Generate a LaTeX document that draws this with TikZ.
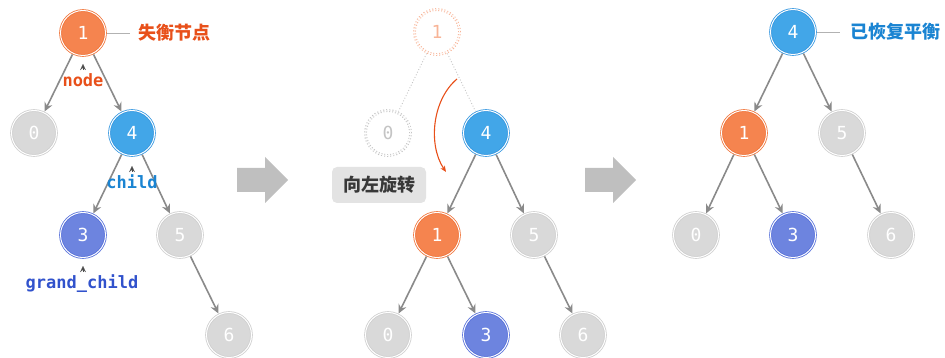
\documentclass[tikz,border=0pt]{standalone}
\usepackage{fontspec}
\setmonofont{DejaVu Sans Mono}
\newfontfamily\cjk{Noto Sans CJK SC}
\usetikzlibrary{arrows.meta}
\definecolor{gfill}{HTML}{D9D9D9}
\definecolor{gring}{HTML}{CFCFCF}
\definecolor{ofill}{HTML}{F5844F}
\definecolor{oring}{HTML}{F0743A}
\definecolor{bfill}{HTML}{42A6E8}
\definecolor{bring}{HTML}{3597E0}
\definecolor{pfill}{HTML}{6D84DF}
\definecolor{pring}{HTML}{5670DA}
\definecolor{edgec}{HTML}{8A8A8A}
\definecolor{redtxt}{HTML}{E8501A}
\definecolor{bluetxt}{HTML}{1A84D2}
\definecolor{purtxt}{HTML}{3152CC}
\definecolor{ghosto}{HTML}{F8B497}
\definecolor{ghostg}{HTML}{C4C4C4}
\definecolor{bigarrow}{HTML}{BFBFBF}
\begin{document}
\begin{tikzpicture}[x=1pt,y=-1pt,
  tn/.style={circle, minimum size=45pt, inner sep=0pt, outer sep=1.4pt,
    line width=0.8pt, double distance=1pt, double=white, text=white,
    font=\ttfamily\fontsize{18}{18}\selectfont},
  gn/.style={tn, draw=gring, fill=gfill},
  on/.style={tn, draw=oring, fill=ofill},
  bn/.style={tn, draw=bring, fill=bfill},
  pn/.style={tn, draw=pring, fill=pfill},
  ghost/.style={circle, minimum size=45pt, inner sep=0pt, outer sep=1.4pt,
    line width=1pt, double distance=0.8pt, double=white, dotted,
    font=\ttfamily\fontsize{18}{18}\selectfont},
  edge/.style={draw=edgec, line width=1.6pt, -{Stealth[length=9pt,width=8.5pt,inset=3pt]}},
  gedge/.style={draw=ghostg, line width=0.9pt, dotted},
  tag/.style={font=\ttfamily\bfseries\fontsize{17}{17}\selectfont, inner sep=0pt},
  cjktag/.style={font=\cjk\bfseries\fontsize{18}{18}\selectfont, inner sep=0pt},
  caret/.style={draw=black!70, line width=0.1pt, -{Stealth[length=6pt,width=5.5pt,inset=2.2pt]}},
  lead/.style={draw=black!30, line width=0.8pt},
  bigarr/.style={fill=bigarrow, draw=none}
]
\useasboundingbox (0,0) rectangle (945,358);

% ---------- left tree ----------
\node[on] (L1) at (83,33) {1};
\node[gn] (L0) at (34,133) {0};
\node[bn] (L4) at (132,133) {4};
\node[pn] (L3) at (83,235) {3};
\node[gn] (L5) at (180,235) {5};
\node[gn] (L6) at (229,335) {6};
\draw[edge] (L1) -- (L0);
\draw[edge] (L1) -- (L4);
\draw[edge] (L4) -- (L3);
\draw[edge] (L4) -- (L5);
\draw[edge] (L5) -- (L6);

\node[cjktag, text=redtxt, anchor=west] (Lt) at (138,33) {失衡节点};
\draw[lead] (L1.east) -- (Lt.west -| 130,0);

\node[tag, text=redtxt] (Ln) at (83,80) {node};
\coordinate (Lnc) at (83,64);
\draw[caret] (83,70) -- (Lnc);
\node[tag, text=bluetxt] (Lc) at (132,182) {child};
\coordinate (Lcc) at (132,166);
\draw[caret] (132,172) -- (Lcc);
\node[tag, text=purtxt] (Lg) at (82,284) {grand\_child};
\coordinate (Lgc) at (83,266);
\draw[caret] (83,272) -- (Lgc);

% ---------- big arrows ----------
\fill[bigarr] (237,168) -- (265,168) -- (265,157) -- (288,180) -- (265,203) -- (265,192) -- (237,192) -- cycle;
\fill[bigarr] (585,168) -- (613,168) -- (613,157) -- (636,180) -- (613,203) -- (613,192) -- (585,192) -- cycle;

% ---------- middle tree ----------
\node[ghost, draw=ghosto, text=ghosto] (M1g) at (437,32) {1};
\node[ghost, draw=ghostg, text=ghostg] (M0g) at (388,133) {0};
\node[bn] (M4) at (486,133) {4};
\node[on] (M1) at (437,235) {1};
\node[gn] (M5) at (534,235) {5};
\node[gn] (M0) at (388,335) {0};
\node[pn] (M3) at (486,335) {3};
\node[gn] (M6) at (583,335) {6};
\draw[gedge] (M1g) -- (M0g);
\draw[gedge] (M1g) -- (M4);
\draw[edge] (M4) -- (M1);
\draw[edge] (M4) -- (M5);
\draw[edge] (M1) -- (M0);
\draw[edge] (M1) -- (M3);
\draw[edge] (M5) -- (M6);

\coordinate (Ras) at (457,79);
\coordinate (Rae) at (446,172);
\draw[draw=redtxt, line width=1.1pt, -{Stealth[length=6pt,width=5pt,inset=1.5pt]}]
  (Ras) .. controls (432,100) and (428,145) .. (Rae);

\node[fill=black!11, rounded corners=5pt, minimum width=94pt, minimum height=36pt,
  inner sep=0pt, text=black!78, font=\cjk\bfseries\fontsize{18}{18}\selectfont]
  (Mrot) at (379,185) {向左旋转};

% ---------- right tree ----------
\node[bn] (R4) at (793,32) {4};
\node[on] (R1) at (744,133) {1};
\node[gn] (R5) at (842,133) {5};
\node[gn] (R0) at (696,235) {0};
\node[pn] (R3) at (793,235) {3};
\node[gn] (R6) at (891,235) {6};
\draw[edge] (R4) -- (R1);
\draw[edge] (R4) -- (R5);
\draw[edge] (R1) -- (R0);
\draw[edge] (R1) -- (R3);
\draw[edge] (R5) -- (R6);

\node[cjktag, text=bluetxt, anchor=west] (Rt) at (850,32) {已恢复平衡};
\draw[lead] (R4.east) -- (Rt.west -| 840,0);
\end{tikzpicture}
\end{document}
